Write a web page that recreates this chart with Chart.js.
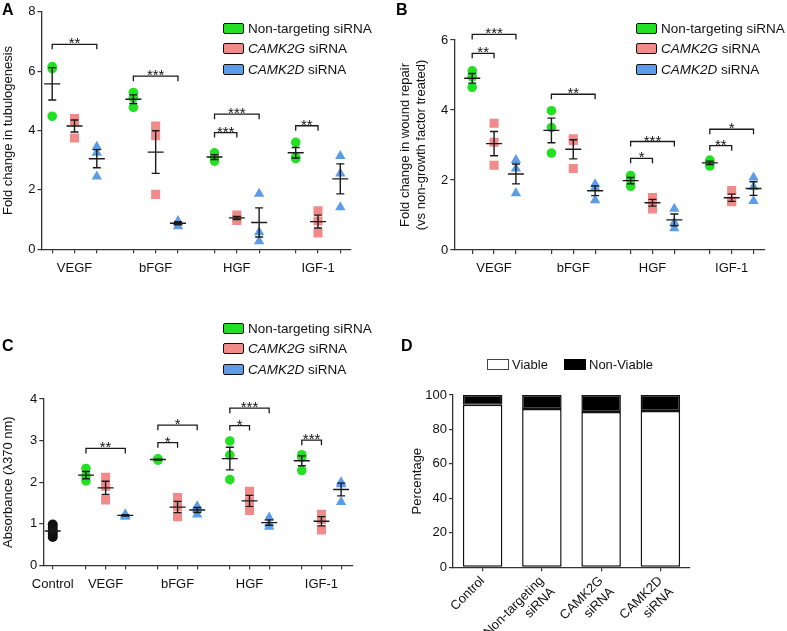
<!DOCTYPE html>
<html>
<head>
<meta charset="utf-8">
<script src="https://cdn.jsdelivr.net/npm/chart.js@4.4.1/dist/chart.umd.min.js"></script>
<style>
  body { margin: 0; background: #fff; font-family: "Liberation Sans", Arial, sans-serif; }
  #fig { position: relative; width: 787px; height: 631px; overflow: hidden; background: #fff; }
  canvas { position: absolute; }
  .tag { position: absolute; font-weight: bold; font-size: 16px; color: #000; line-height: 16px; }
  .legend { position: absolute; font-size: 13.5px; color: #111; }
  .legend div { height: 20.5px; display: flex; align-items: center; white-space: nowrap; }
  .sw { display: inline-block; width: 19px; height: 9px; border: 1.5px solid #111; border-radius: 2px; margin-right: 4px; }
  .dleg { position: absolute; font-size: 13px; color: #111; display: flex; align-items: center; white-space: nowrap; height: 14px; }
  .dsw { display: inline-block; width: 20px; height: 9px; border: 1.5px solid #444; margin-right: 3px; }
</style>
</head>
<body>
<div id="fig">
  <canvas id="chartA" width="390" height="300" style="left:0;top:0"></canvas>
  <canvas id="chartB" width="397" height="300" style="left:390px;top:0"></canvas>
  <canvas id="chartC" width="390" height="331" style="left:0;top:300px"></canvas>
  <canvas id="chartD" width="397" height="331" style="left:390px;top:300px"></canvas>

  <div class="tag" style="left:2px;top:2px">A</div>
  <div class="tag" style="left:396px;top:2px">B</div>
  <div class="tag" style="left:2px;top:338px">C</div>
  <div class="tag" style="left:401px;top:338px">D</div>

  <div class="legend" style="left:223px;top:18px">
    <div><i class="sw" style="background:#22e022"></i>Non-targeting siRNA</div>
    <div><i class="sw" style="background:#f28a8a"></i><em>CAMK2G</em>&nbsp;siRNA</div>
    <div><i class="sw" style="background:#5c9ce8"></i><em>CAMK2D</em>&nbsp;siRNA</div>
  </div>
  <div class="legend" style="left:636px;top:18px">
    <div><i class="sw" style="background:#22e022"></i>Non-targeting siRNA</div>
    <div><i class="sw" style="background:#f28a8a"></i><em>CAMK2G</em>&nbsp;siRNA</div>
    <div><i class="sw" style="background:#5c9ce8"></i><em>CAMK2D</em>&nbsp;siRNA</div>
  </div>
  <div class="legend" style="left:223px;top:318px">
    <div><i class="sw" style="background:#22e022"></i>Non-targeting siRNA</div>
    <div><i class="sw" style="background:#f28a8a"></i><em>CAMK2G</em>&nbsp;siRNA</div>
    <div><i class="sw" style="background:#5c9ce8"></i><em>CAMK2D</em>&nbsp;siRNA</div>
  </div>
  <div class="dleg" style="left:487px;top:357px"><i class="dsw" style="background:#fff"></i>Viable</div>
  <div class="dleg" style="left:564px;top:357px"><i class="dsw" style="background:#000;border-color:#000"></i>Non-Viable</div>
</div>

<script>
const groups = ['VEGF', 'bFGF', 'HGF', 'IGF-1'];
const seriesColors = ['#22e022', '#f28a8a', '#5c9ce8'];
const seriesShapes = ['circle', 'rect', 'triangle'];
const seriesRadius = [4.8, 6.4, 6];

// A - fold change in tubulogenesis (3 replicates per growth factor)
const tubeNonTarget = [[6.15, 6.08, 4.48], [5.28, 5.1, 4.78], [3.25, 3.1, 2.97], [3.6, 3.1, 3.05]];
const tubeCamk2g = [[4.4, 4.3, 3.75], [4.15, 3.82, 1.85], [1.15, 1.05, 0.97], [1.3, 0.95, 0.55]];
const tubeCamk2d = [[3.45, 3.25, 2.45], [0.95, 0.9, 0.78], [1.87, 0.57, 0.27], [3.14, 2.55, 1.42]];
// [group, from series, to series, bracket height, stars]
const tubeSig = [[0, 0, 2, 6.9, '**'], [1, 0, 2, 5.83, '***'], [2, 0, 2, 4.55, '***'], [2, 0, 1, 3.93, '***'], [3, 0, 1, 4.16, '**']];

// B - fold change in wound repair
const woundNonTarget = [[5.12, 4.95, 4.65], [3.98, 3.5, 2.77], [2.13, 2.0, 1.82], [2.57, 2.5, 2.4]];
const woundCamk2g = [[3.62, 3.08, 2.42], [3.18, 3.12, 2.33], [1.5, 1.38, 1.17], [1.7, 1.4, 1.38]];
const woundCamk2d = [[2.57, 2.33, 1.62], [1.88, 1.78, 1.42], [1.18, 0.78, 0.62], [2.07, 1.8, 1.4]];
const woundSig = [[0, 0, 2, 6.16, '***'], [0, 0, 1, 5.62, '**'], [1, 0, 2, 4.45, '**'], [2, 0, 2, 3.1, '***'],
                  [2, 0, 1, 2.62, '*'], [3, 0, 2, 3.45, '*'], [3, 0, 1, 2.98, '**']];

// C - absorbance (lambda 370 nm)
const absControl = [0.98, 0.9, 0.82, 0.75, 0.68];
const absNonTarget = [[2.33, 2.15, 2.03], [2.56, 2.54, 2.53], [2.99, 2.65, 2.06], [2.66, 2.6, 2.28]];
const absCamk2g = [[2.12, 1.9, 1.57], [1.63, 1.4, 1.17], [1.78, 1.55, 1.32], [1.23, 1.1, 0.85]];
const absCamk2d = [[1.23, 1.2, 1.17], [1.42, 1.35, 1.22], [1.15, 1.0, 0.93], [2.0, 1.95, 1.52]];
const absSig = [[0, 0, 2, 2.81, '**'], [1, 0, 2, 3.37, '*'], [1, 0, 1, 2.95, '*'], [2, 0, 2, 3.78, '***'],
                [2, 0, 1, 3.36, '*'], [3, 0, 1, 3.01, '***']];

// D - viability
const viabilityLabels = [['Control'], ['Non-targeting', 'siRNA'], ['CAMK2G', 'siRNA'], ['CAMK2D', 'siRNA']];
const viablePct = [94.4, 91.9, 90.1, 90.7];
const nonViablePct = [5.6, 8.1, 9.9, 9.3];

const FONT = '"Liberation Sans", Arial, sans-serif';
Chart.defaults.font.family = FONT;
Chart.defaults.color = '#111';

function meanSem(vals) {
  const n = vals.length;
  const m = vals.reduce((a, b) => a + b, 0) / n;
  const sd = Math.sqrt(vals.reduce((a, b) => a + (b - m) ** 2, 0) / (n - 1));
  return [m, sd / Math.sqrt(n)];
}

// mean line + SEM whiskers, then significance brackets
function summaryPlugin(sets, brackets, pos) {
  return {
    id: 'summary',
    afterDatasetsDraw(chart) {
      const ctx = chart.ctx, xs = chart.scales.x, ys = chart.scales.y;
      ctx.save();
      ctx.strokeStyle = '#1a1a1a';
      ctx.lineWidth = 1.4;
      sets.forEach(set => {
        const [m, sem] = meanSem(set.vals);
        const px = xs.getPixelForValue(set.x);
        const pm = ys.getPixelForValue(m);
        const pt = ys.getPixelForValue(m + sem);
        const pb = ys.getPixelForValue(m - sem);
        ctx.beginPath();
        ctx.moveTo(px - 8, pm); ctx.lineTo(px + 8, pm);
        ctx.moveTo(px, pt); ctx.lineTo(px, pb);
        ctx.moveTo(px - 4, pt); ctx.lineTo(px + 4, pt);
        ctx.moveTo(px - 4, pb); ctx.lineTo(px + 4, pb);
        ctx.stroke();
      });
      ctx.lineWidth = 1.3;
      ctx.fillStyle = '#111';
      ctx.font = '15px ' + FONT;
      ctx.textAlign = 'center';
      ctx.textBaseline = 'alphabetic';
      brackets.forEach(([g, s0, s1, v, stars]) => {
        const x0 = xs.getPixelForValue(pos(g, s0));
        const x1 = xs.getPixelForValue(pos(g, s1));
        const py = ys.getPixelForValue(v);
        ctx.beginPath();
        ctx.moveTo(x0, py + 5); ctx.lineTo(x0, py); ctx.lineTo(x1, py); ctx.lineTo(x1, py + 5);
        ctx.stroke();
        ctx.fillText(stars, (x0 + x1) / 2, py + 4);
      });
      ctx.restore();
    }
  };
}

function makeScatter(id, p) {
  const pos = (g, s) => g * p.stride + s;
  const datasets = [], sets = [], tickVals = [], tickText = [];
  if (p.control) {
    datasets.push({ data: p.control.map(v => ({ x: p.controlX, y: v })), backgroundColor: '#111',
      pointStyle: 'circle', pointRadius: 5, borderWidth: 0 });
    sets.push({ x: p.controlX, vals: p.control });
    tickVals.push(p.controlX); tickText.push('Control');
  }
  groups.forEach((name, g) => {
    [0, 1, 2].forEach(s => { tickVals.push(pos(g, s)); tickText.push(s === 1 ? name : ''); });
  });
  p.series.forEach((arr, s) => {
    datasets.push({
      data: arr.flatMap((vals, g) => vals.map(v => ({ x: pos(g, s), y: v }))),
      backgroundColor: seriesColors[s], pointStyle: seriesShapes[s],
      pointRadius: seriesRadius[s], pointHoverRadius: seriesRadius[s], borderWidth: 0
    });
    arr.forEach((vals, g) => sets.push({ x: pos(g, s), vals }));
  });

  new Chart(document.getElementById(id), {
    type: 'scatter',
    data: { datasets },
    options: {
      responsive: false,
      animation: false,
      layout: { padding: { top: p.padTop, right: p.padRight, left: 0, bottom: 0 } },
      plugins: { legend: { display: false }, tooltip: { enabled: false } },
      scales: {
        x: {
          type: 'linear', min: p.xMin, max: p.xMax,
          afterBuildTicks: sc => { sc.ticks = tickVals.map(v => ({ value: v })); },
          afterFit: sc => { sc.height = p.xHeight; },
          ticks: { autoSkip: false, maxRotation: 0, padding: 7, color: '#111', font: { size: 13 },
                   callback: (v, i) => tickText[i] },
          grid: { drawOnChartArea: false, tickLength: 4, color: '#333', lineWidth: 1.2 },
          border: { color: '#333', width: 1.3 }
        },
        y: {
          min: 0, max: p.yMax,
          afterFit: sc => { sc.width = p.yWidth; },
          ticks: { stepSize: p.yStep, padding: 2, color: '#111', font: { size: 13 } },
          title: { display: true, text: p.yTitle, color: '#111', font: { size: 13, lineHeight: 1.28 },
                   padding: { top: p.titlePad, bottom: 0 } },
          grid: { drawOnChartArea: false, tickLength: 4, color: '#333', lineWidth: 1.2 },
          border: { color: '#333', width: 1.3 }
        }
      }
    },
    plugins: [summaryPlugin(sets, p.brackets, pos)]
  });
}

makeScatter('chartA', {
  series: [tubeNonTarget, tubeCamk2g, tubeCamk2d], brackets: tubeSig,
  stride: 3.64, xMin: -0.48, xMax: 13.4, yMax: 8, yStep: 2,
  yTitle: 'Fold change in tubulogenesis',
  yWidth: 41.5, xHeight: 50.7, padTop: 11.7, padRight: 39, titlePad: 0
});

makeScatter('chartB', {
  series: [woundNonTarget, woundCamk2g, woundCamk2d], brackets: woundSig,
  stride: 3.625, xMin: -0.82, xMax: 13.4, yMax: 6, yStep: 2,
  yTitle: ['Fold change in wound repair', '(vs non-growth factor treated)'],
  yWidth: 64.3, xHeight: 50, padTop: 40, padRight: 22, titlePad: 6.7
});

makeScatter('chartC', {
  series: [absNonTarget, absCamk2g, absCamk2d], brackets: absSig,
  control: absControl, controlX: -1.69,
  stride: 3.66, xMin: -2.17, xMax: 13.57, yMax: 4, yStep: 1,
  yTitle: 'Absorbance (\u03bb370 nm)',
  yWidth: 43.3, xHeight: 65.7, padTop: 99, padRight: 37.3, titlePad: 0
});

new Chart(document.getElementById('chartD'), {
  type: 'bar',
  data: {
    labels: viabilityLabels,
    datasets: [
      { label: 'Viable', data: viablePct, backgroundColor: '#fff', borderColor: '#111', borderWidth: 1.5, borderSkipped: false },
      { label: 'Non-Viable', data: nonViablePct, backgroundColor: '#000', borderColor: '#111', borderWidth: 1.5, borderSkipped: false }
    ]
  },
  options: {
    responsive: false,
    animation: false,
    layout: { padding: { top: 95, right: 97, left: 0, bottom: 0 } },
    datasets: { bar: { barPercentage: 0.667, categoryPercentage: 1 } },
    plugins: { legend: { display: false }, tooltip: { enabled: false } },
    scales: {
      x: {
        stacked: true,
        afterFit: sc => { sc.height = 63.7; },
        ticks: { minRotation: 45, maxRotation: 45, padding: 2, color: '#111', font: { size: 13 } },
        grid: { offset: false, drawOnChartArea: false, tickLength: 4, color: '#333', lineWidth: 1.2 },
        border: { color: '#333', width: 1.3 }
      },
      y: {
        stacked: true, min: 0, max: 100,
        afterFit: sc => { sc.width = 63; },
        ticks: { stepSize: 20, padding: 2, color: '#111', font: { size: 13 } },
        title: { display: true, text: 'Percentage', color: '#111', font: { size: 13 }, padding: { top: 20, bottom: 0 } },
        grid: { drawOnChartArea: false, tickLength: 4, color: '#333', lineWidth: 1.2 },
        border: { color: '#333', width: 1.3 }
      }
    }
  }
});
</script>
</body>
</html>
